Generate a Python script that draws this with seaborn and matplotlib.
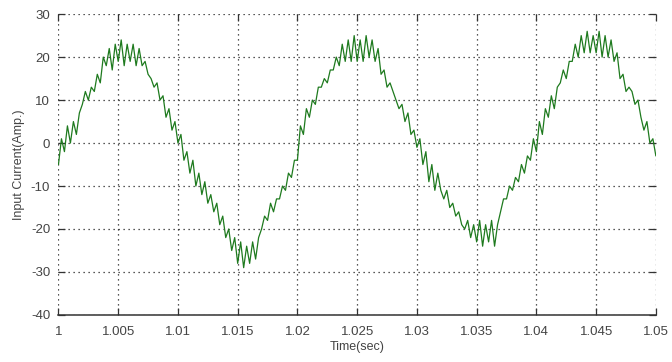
import numpy as np
import pandas as pd
import matplotlib
matplotlib.use("Agg")
import matplotlib.pyplot as plt
import seaborn as sns

# sample times: 1.000 .. 1.050 s, step 0.25 ms
time_start = 1.0
time_step = 0.00025

# input current samples (A), 4 per millisecond
current = [
    -5, 1, -2, 4,
    0, 5, 2, 7,
    9, 12, 10, 13,
    12, 16, 14, 20,
    18, 22, 17, 23,
    19, 24, 18, 23,
    19, 23, 18, 22,
    18, 19, 16, 15,
    13, 14, 10, 11,
    6, 8, 3, 5,
    0, 2, -4, -2,
    -7, -4, -10, -7,
    -12, -9, -14, -12,
    -16, -14, -19, -17,
    -22, -20, -25, -22,
    -28, -23, -29, -24,
    -28, -23, -27, -22,
    -20, -17, -18, -14,
    -16, -13, -13, -10,
    -11, -7, -8, -4,
    -4, 4, 2, 8,
    6, 10, 9, 13,
    13, 15, 14, 17,
    17, 20, 18, 23,
    19, 24, 19, 25,
    19, 24, 19, 25,
    20, 24, 19, 22,
    16, 17, 13, 14,
    12, 10, 8, 9,
    5, 7, 2, 3,
    -1, 1, -5, -2,
    -9, -5, -11, -7,
    -11, -13, -11, -15,
    -14, -17, -16, -19,
    -20, -18, -22, -19,
    -23, -18, -24, -19,
    -23, -18, -24, -19,
    -16, -13, -13, -10,
    -11, -8, -9, -5,
    -7, -3, -4, 1,
    -2, 5, 2, 8,
    6, 11, 8, 13,
    14, 17, 15, 19,
    19, 23, 20, 25,
    21, 26, 21, 25,
    21, 26, 20, 25,
    20, 24, 19, 21,
    15, 16, 12, 13,
    12, 9, 10, 6,
    3, 5, 0, 1,
    -3,
]

x_ticks = [1.0, 1.005, 1.01, 1.015, 1.02, 1.025, 1.03, 1.035, 1.04, 1.045, 1.05]
x_tick_labels = ["1", "1.005", "1.01", "1.015", "1.02", "1.025", "1.03", "1.035", "1.04", "1.045", "1.05"]
y_ticks = [-40, -30, -20, -10, 0, 10, 20, 30]
y_tick_labels = ["-40", "-30", "-20", "-10", "0", "10", "20", "30"]

times = time_start + time_step * np.arange(len(current))
df = pd.DataFrame({"Time(sec)": times, "Input Current(Amp.)": current})

sns.set_theme(style="white")
plt.rcParams["font.family"] = ["Liberation Sans Narrow", "Liberation Sans", "DejaVu Sans"]

fig = plt.figure(figsize=(6.72, 3.62), dpi=100)
ax = fig.add_axes([0.087, 0.130, 0.889, 0.831])

sns.lineplot(data=df, x="Time(sec)", y="Input Current(Amp.)", ax=ax,
             color="#1e7a1e", linewidth=0.9)

ax.set_xlim(1.0, 1.05)
ax.set_ylim(-40, 30)
ax.set_xticks(x_ticks)
ax.set_xticklabels(x_tick_labels)
ax.set_yticks(y_ticks)
ax.set_yticklabels(y_tick_labels)

ax.grid(True, linestyle=(0, (1, 3)), color="#222222", linewidth=0.9)
ax.tick_params(axis="both", which="both", direction="in", length=5, width=0.9,
               top=True, right=True, bottom=True, left=True,
               colors="#333333", labelsize=9.5, labelcolor="#444444", pad=6)
ax.tick_params(axis="x", pad=8)

for side in ["top", "left", "right"]:
    ax.spines[side].set_visible(False)
ax.spines["bottom"].set_color("#333333")
ax.spines["bottom"].set_linewidth(1.1)

ax.set_xlabel("Time(sec)", fontsize=9, color="#444444", labelpad=2)
ax.set_ylabel("Input Current(Amp.)", fontsize=9, color="#444444", labelpad=4)

fig.savefig("out.png", dpi=100, facecolor="white")
